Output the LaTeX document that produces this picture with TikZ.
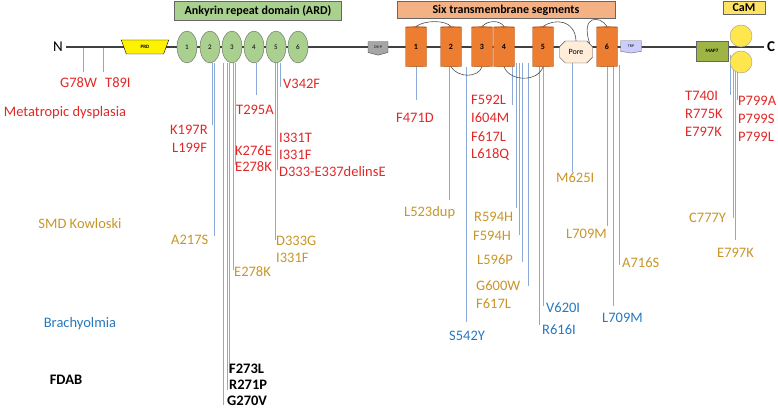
\documentclass[tikz,border=0pt]{standalone}
\usepackage{fontspec}
\setmainfont{Carlito}
\usetikzlibrary{shapes.geometric,shapes.symbols,shapes.misc}
\definecolor{mred}{RGB}{225,40,40}
\definecolor{mgold}{RGB}{200,150,40}
\definecolor{mblue}{RGB}{40,120,190}
\definecolor{lline}{RGB}{140,170,215}
\definecolor{ankg}{RGB}{169,208,142}
\definecolor{cylo}{RGB}{237,125,49}
\definecolor{boxo}{RGB}{244,177,131}
\begin{document}
\begin{tikzpicture}[x=1pt,y=-1pt,
  lab/.style={font=\fontsize{14.5}{15}\selectfont,inner sep=0pt,anchor=west},
  rl/.style={lab,text=mred},gl/.style={lab,text=mgold},bl/.style={lab,text=mblue},
  kl/.style={lab,text=black,font=\fontsize{14.5}{15}\selectfont\bfseries},
  ml/.style={lline,line width=0.9pt},
  ank/.style={ellipse,draw=black!60,fill=ankg,minimum width=20pt,minimum height=32pt,inner sep=0pt,font=\scriptsize},
  hdr/.style={draw=black!60,font=\fontsize{12}{13}\selectfont\bfseries,inner sep=0pt},
  cyl/.style={cylinder,shape border rotate=90,aspect=0.22,draw=cylo!70!black,fill=cylo,minimum width=21pt,minimum height=40pt,inner sep=0pt,font=\footnotesize\bfseries},
  loop/.style={black!70,line width=0.6pt}]
\useasboundingbox (0,0) rectangle (778,411);
% mutation lines (drawn first)
\foreach \x/\a/\b in {83/47/72,103/47/72,212/63/125,214/63/145,223/63/405,227/63/390,229/63/373,233/63/270,235/63/165,256/63/95,214/63/236,275/63/240,277/63/170,280/63/87,416/63/100,449/65/200,466/67/322,512/63/105,516/63/208,519/63/235,522/63/262,528/63/286,539/63/325,543/63/306,572/62/172,607/65/226,613/65/306,619/65/265,730/55/95,733/55/218,735/55/240,737/55/100}
  \draw[ml] (\x,\a) -- (\x,\b);
% backbone
\node[font=\fontsize{15}{15}\selectfont] (N) at (58,47) {N};
\node[font=\fontsize{15}{15}\selectfont\bfseries] (C) at (771,47) {C};
\draw[black!75,line width=2.2pt] (N.east) -- (C.west);
% headers
\node[hdr,fill=ankg,minimum width=167pt,minimum height=19pt] (ard) at (258,11) {Ankyrin repeat domain (ARD)};
\node[hdr,fill=boxo,minimum width=218pt,minimum height=17pt] (six) at (506,10) {Six transmembrane segments};
\node[hdr,fill=yellow!70!orange!60,minimum width=42pt,minimum height=13pt] (cam) at (744,8) {CaM};
% PRD
\node[trapezium,shape border rotate=180,trapezium angle=70,draw=black,fill=yellow,minimum width=30pt,minimum height=14pt,inner sep=0pt,font=\tiny\bfseries] (prd) at (145,47) {PRD};
% ankyrin
\foreach \i/\x in {1/187,2/210,3/232,4/254,5/276,6/298} \node[ank] (a\i) at (\x,47) {\i};
% OS-9
\node[draw=black!70,fill=gray!70,minimum width=20pt,minimum height=12pt,inner sep=0pt,font=\fontsize{4}{4}\selectfont,signal,signal to=south,signal pointer angle=150] (os) at (378,47) {OS-9};
% cylinders
\foreach \i/\x in {1/416,2/451,3/482,4/504,5/543,6/607} \node[cyl] (c\i) at (\x,47) {\i};
% pore
\node[chamfered rectangle,chamfered rectangle xsep=4pt,draw=black!70,fill=orange!15,minimum width=33pt,minimum height=22pt,inner sep=0pt,font=\footnotesize] (pore) at (576,52) {Pore};
\node[draw=black!60,fill=blue!20,minimum width=21pt,minimum height=11pt,inner sep=0pt,font=\fontsize{4}{4}\selectfont,signal,signal to=south,signal pointer angle=160] (trp) at (631,46) {TRP};
\node[draw=black!60,fill=olive!70!green!70,minimum width=32pt,minimum height=20pt,inner sep=0pt,font=\fontsize{5}{5}\selectfont\bfseries] (map) at (712,51) {MAP7};
% CaM lobes
\draw[draw=black!40,fill=yellow!80!orange!70] (741,36) circle (11pt);
\draw[draw=black!40,fill=yellow!80!orange!70] (741,62) circle (11pt);
% loops
\draw[loop] (c1.north) .. controls (425,20) and (445,20) .. (c2.north);
\draw[loop] (c2.south) .. controls (458,78) and (478,78) .. (c3.south);
\draw[loop] (c3.north) .. controls (488,20) and (500,20) .. (c4.north);
\draw[loop] (c4.south) .. controls (510,82) and (538,82) .. (c5.south);
\draw[loop] (c5.north) .. controls (555,18) and (575,20) .. (pore.north);
\draw[loop] (pore.north east) .. controls (580,15) and (600,15) .. (c6.north);
% labels
\node[rl] (g78) at (60,83) {G78W};
\node[rl] (t89) at (105,83) {T89I};
\node[rl,anchor=center] (meta) at (65,113) {Metatropic dysplasia};
\node[rl] at (170,130) {K197R};
\node[rl] at (172,148) {L199F};
\node[rl] at (236,110) {T295A};
\node[rl] at (283,84) {V342F};
\node[rl] at (235,151) {K276E};
\node[rl] at (235,167) {E278K};
\node[rl] at (279,138) {I331T};
\node[rl] at (279,155) {I331F};
\node[rl] at (279,172) {D333-E337delinsE};
\node[rl] at (396,118) {F471D};
\node[rl] at (471,100) {F592L};
\node[rl] at (471,118) {I604M};
\node[rl] at (471,137) {F617L};
\node[rl] at (471,155) {L618Q};
\node[rl] at (685,96) {T740I};
\node[rl] at (685,114) {R775K};
\node[rl] at (685,132) {E797K};
\node[rl] at (738,101) {P799A};
\node[rl] at (738,119) {P799S};
\node[rl] at (738,137) {P799L};
\node[gl] at (556,178) {M625I};
\node[gl,anchor=center] at (80,224) {SMD Kowloski};
\node[gl] at (171,240) {A217S};
\node[gl] at (234,272) {E278K};
\node[gl] at (276,241) {D333G};
\node[gl] at (276,258) {I331F};
\node[gl] at (404,213) {L523dup};
\node[gl] at (474,217) {R594H};
\node[gl] at (473,236) {F594H};
\node[gl] at (477,260) {L596P};
\node[gl] at (476,286) {G600W};
\node[gl] at (476,304) {F617L};
\node[gl] at (566,234) {L709M};
\node[gl] at (622,263) {A716S};
\node[gl] at (689,218) {C777Y};
\node[gl] at (717,253) {E797K};
\node[bl,anchor=center] at (80,324) {Brachyolmia};
\node[bl] at (449,336) {S542Y};
\node[bl] at (546,308) {V620I};
\node[bl] at (542,330) {R616I};
\node[bl] at (602,318) {L709M};
\node[lab,text=black,font=\fontsize{14.5}{15}\selectfont\bfseries,anchor=center] at (66,380) {FDAB};
\node[kl] at (229,369) {F273L};
\node[kl] at (229,385) {R271P};
\node[kl] at (227,401) {G270V};
\end{tikzpicture}
\end{document}
